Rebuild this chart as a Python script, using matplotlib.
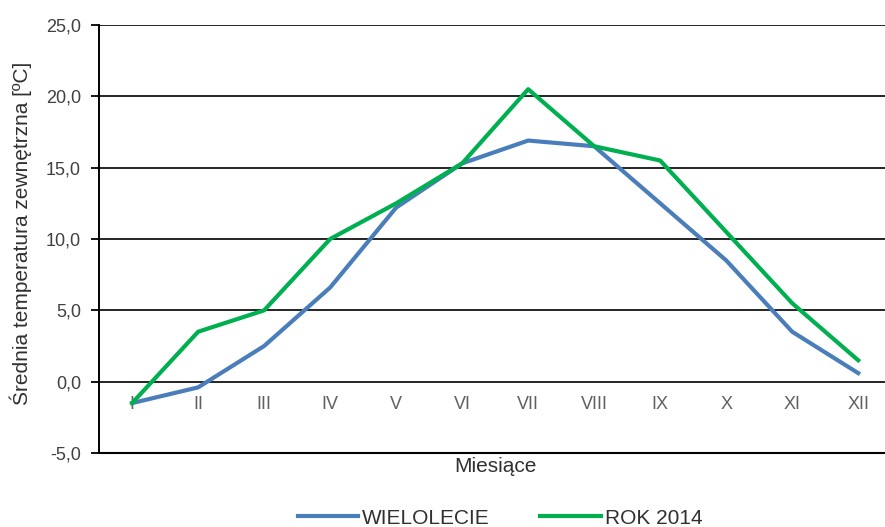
import matplotlib.pyplot as plt

plt.rcParams['font.family'] = ['Liberation Sans', 'DejaVu Sans']

months = ["I", "II", "III", "IV", "V", "VI", "VII", "VIII", "IX", "X", "XI", "XII"]
wielolecie = [-1.5, -0.4, 2.5, 6.6, 12.2, 15.3, 16.9, 16.5, 12.5, 8.5, 3.5, 0.6]
rok_2014 = [-1.5, 3.5, 5.0, 10.0, 12.5, 15.3, 20.5, 16.5, 15.5, 10.5, 5.5, 1.5]
y_ticks = [-5, 0, 5, 10, 15, 20, 25]

fig = plt.figure(figsize=(8.85, 5.27), dpi=100)
ax = fig.add_axes([0.112, 0.1404, 0.895, 0.8122])

x = list(range(len(months)))
ax.plot(x, wielolecie, color='#4a7ebb', lw=3.0, label='WIELOLECIE', zorder=3)
ax.plot(x, rok_2014, color='#00b050', lw=3.0, label='ROK 2014', zorder=3)

ax.set_ylim(-5, 25)
ax.set_xlim(-0.5, 11.5)
ax.set_yticks(y_ticks)
ax.set_yticklabels([f"{v:.1f}".replace('.', ',') for v in y_ticks])
ax.grid(axis='y', color='black', lw=1.2)
ax.axhline(-5, color='black', lw=1.5, clip_on=False)
ax.set_axisbelow(True)

# category labels sit just under the zero line, like Excel does it
ax.set_xticks(x)
ax.set_xticklabels(months)
ax.spines['bottom'].set_position(('data', 0))
ax.spines['bottom'].set_visible(False)
ax.spines['top'].set_visible(False)
ax.spines['right'].set_visible(False)
ax.spines['left'].set_linewidth(1.4)
ax.tick_params(axis='x', length=0, pad=10, labelsize=13, labelcolor='#606060')
ax.tick_params(axis='y', length=6, width=1.3, labelsize=13, labelcolor='#404040', pad=7)

fig.text(21 / 885, 0.558, 'Średnia temperatura zewnętrzna [ºC]', rotation=90,
         ha='center', va='center', fontsize=15, color='#303030')
fig.text(495 / 885, 1 - 467 / 527, 'Miesiące', ha='center', va='center',
         fontsize=15, color='#303030')

fig.legend(loc='center', bbox_to_anchor=(0.565, 1 - 518 / 527), ncol=2, frameon=False,
           fontsize=15, handlelength=2.9, handletextpad=0.2, columnspacing=2.4,
           labelcolor='#303030')

fig.savefig('out.png', dpi=100)
